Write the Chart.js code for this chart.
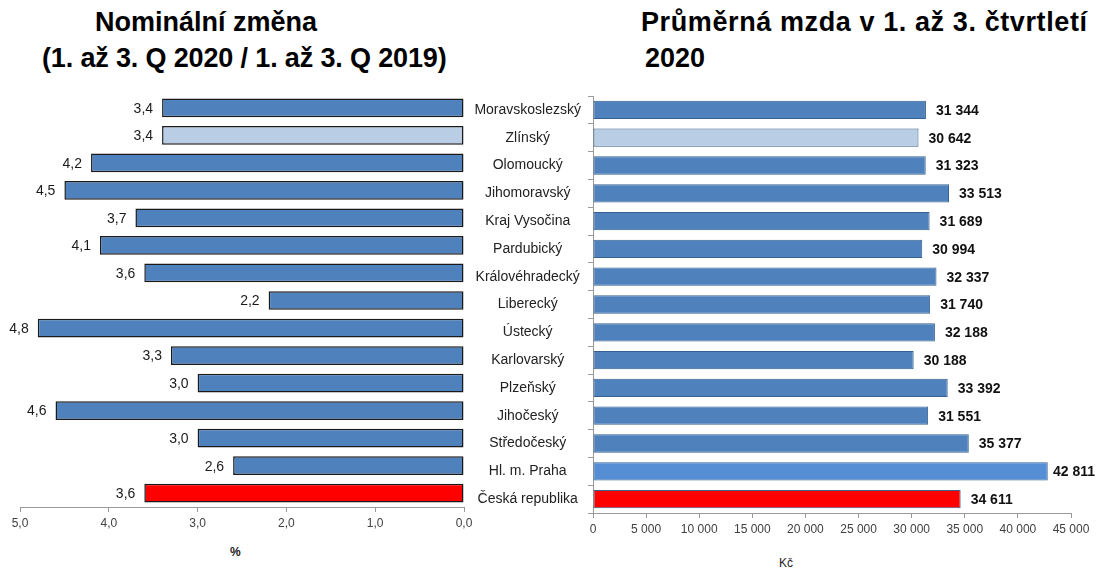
<!DOCTYPE html>
<html><head><meta charset="utf-8">
<script src="https://cdn.jsdelivr.net/npm/chart.js@4.4.0/dist/chart.umd.min.js"></script>
<style>
body{margin:0;background:#fff;width:1096px;height:569px;overflow:hidden;position:relative;font-family:"Liberation Sans",Arial,sans-serif;}
.t{position:absolute;font-weight:bold;font-size:27px;color:#000;white-space:nowrap;line-height:30px;}
.ax{position:absolute;font-size:12px;color:#222;white-space:nowrap;line-height:14px;}
canvas{position:absolute;top:0;}
</style></head><body>
<div class="t" style="left:95px;top:7px">Nominální změna</div>
<div class="t" style="left:42px;top:43px;letter-spacing:-0.15px">(1. až 3. Q 2020 / 1. až 3. Q 2019)</div>
<div class="t" style="left:641px;top:7px;letter-spacing:0.6px">Průměrná mzda v 1. až 3. čtvrtletí</div>
<div class="t" style="left:645px;top:43px">2020</div>
<div class="ax" style="left:230px;top:545px;font-weight:bold">%</div>
<div class="ax" style="left:779px;top:556px">Kč</div>
<canvas id="c1" width="480" height="569" style="left:0"></canvas>
<canvas id="c2" width="626" height="569" style="left:470px"></canvas>
<script>
const categories = ["Moravskoslezský","Zlínský","Olomoucký","Jihomoravský","Kraj Vysočina","Pardubický","Královéhradecký","Liberecký","Ústecký","Karlovarský","Plzeňský","Jihočeský","Středočeský","Hl. m. Praha","Česká republika"];
const nominalChange = [3.4,3.4,4.2,4.5,3.7,4.1,3.6,2.2,4.8,3.3,3.0,4.6,3.0,2.6,3.6];
const averageWage = [31344,30642,31323,33513,31689,30994,32337,31740,32188,30188,33392,31551,35377,42811,34611];
const changeTicks = [0,1,2,3,4,5];
const wageTicks = [0,5000,10000,15000,20000,25000,30000,35000,40000,45000];

const BLUE='#4F81BD', LIGHT='#B9CDE5', RED='#FF0000', PRAHA='#558ED5';
const leftColors = categories.map(c => c==='Zlínský'?LIGHT:(c==='Česká republika'?RED:BLUE));
const rightColors = categories.map(c => c==='Zlínský'?LIGHT:(c==='Česká republika'?RED:(c==='Hl. m. Praha'?PRAHA:BLUE)));
const fmtComma = v => Number(v).toFixed(1).replace('.',',');
const fmtThousands = v => String(Math.round(v)).replace(/\B(?=(\d{3})+(?!\d))/g,' ');

const valueLabels = {
  id:'valueLabels',
  afterDatasetsDraw(chart, args, opts){
    const ctx = chart.ctx, meta = chart.getDatasetMeta(0), data = chart.data.datasets[0].data;
    ctx.save();
    ctx.font = opts.font; ctx.fillStyle = opts.color; ctx.textBaseline = 'middle';
    meta.data.forEach((bar,i)=>{
      const txt = opts.format(data[i]);
      if(opts.side==='left'){ ctx.textAlign='right'; ctx.fillText(txt, bar.x - opts.offset, bar.y+1); }
      else {
        ctx.textAlign='left';
        const w = ctx.measureText(txt).width;
        const x = Math.min(bar.x + opts.offset, chart.width - w - 1);
        ctx.fillText(txt, x, bar.y+1);
      }
    });
    ctx.restore();
  }
};
Chart.defaults.font.family = '"Liberation Sans", Arial, sans-serif';

new Chart(document.getElementById('c1'), {
  type:'bar',
  data:{labels:categories, datasets:[{data:nominalChange, backgroundColor:leftColors, borderColor:'#1a1a1a', borderWidth:1.5, borderSkipped:false, categoryPercentage:1, barPercentage:0.68}]},
  options:{
    indexAxis:'y', responsive:false, animation:false, devicePixelRatio:1,
    layout:{padding:{left:20,right:16,top:94,bottom:0}},
    plugins:{legend:{display:false}, tooltip:{enabled:false},
      valueLabels:{side:'left', offset:9, font:'14px "Liberation Sans", Arial, sans-serif', color:'#1a1a1a', format:fmtComma}},
    scales:{
      y:{display:false},
      x:{reverse:true, min:0, max:5, afterBuildTicks(s){ s.ticks = changeTicks.map(v=>({value:v})); },
        ticks:{callback:v=>fmtComma(v), font:{size:12}, color:'#404040', padding:4, maxRotation:0},
        grid:{drawOnChartArea:false, tickLength:5, color:'#9a9a9a'}, border:{color:'#9a9a9a'},
        afterFit(s){ s.height=62; s.paddingLeft=0; s.paddingRight=0; }}
    }
  },
  plugins:[valueLabels]
});

new Chart(document.getElementById('c2'), {
  type:'bar',
  data:{labels:categories, datasets:[{data:averageWage, backgroundColor:rightColors, borderColor:'#35608f', borderWidth:1, borderSkipped:false, categoryPercentage:1, barPercentage:0.66}]},
  options:{
    indexAxis:'y', responsive:false, animation:false, devicePixelRatio:1,
    layout:{padding:{left:0,right:25,top:96,bottom:0}},
    plugins:{legend:{display:false}, tooltip:{enabled:false},
      valueLabels:{side:'right', offset:10, font:'bold 14px "Liberation Sans", Arial, sans-serif', color:'#111', format:fmtThousands}},
    scales:{
      y:{position:'left', grid:{offset:true, drawOnChartArea:false, tickLength:5, color:'#9a9a9a'}, border:{color:'#9a9a9a'},
        ticks:{crossAlign:'center', font:{size:14}, color:'#222', padding:7, autoSkip:false},
        afterFit(s){ s.width=123; }},
      x:{min:0, max:45000, afterBuildTicks(s){ s.ticks = wageTicks.map(v=>({value:v})); },
        ticks:{callback:v=>fmtThousands(v), font:{size:12}, color:'#404040', padding:4, maxRotation:0},
        grid:{drawOnChartArea:false, tickLength:5, color:'#9a9a9a'}, border:{color:'#9a9a9a'},
        afterFit(s){ s.height=56; s.paddingLeft=0; s.paddingRight=0; }}
    }
  },
  plugins:[valueLabels]
});
</script>
</body></html>
